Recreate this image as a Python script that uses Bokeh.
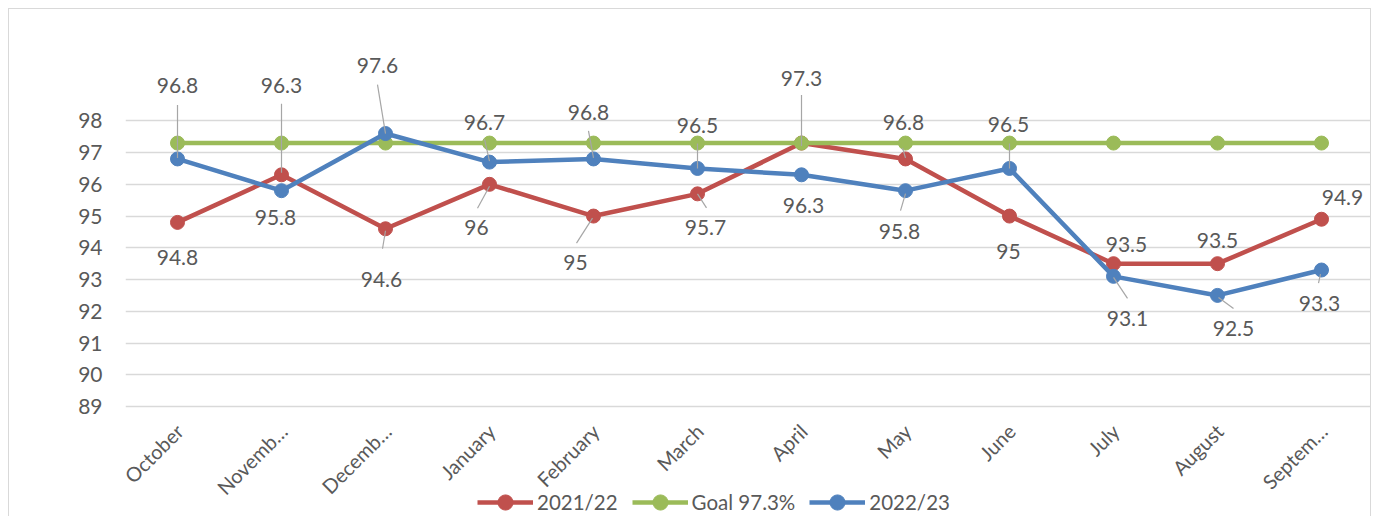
from math import pi
from bokeh.plotting import figure
from bokeh.models import ColumnDataSource, Range1d, FixedTicker, Legend, LegendItem
from bokeh.core.properties import value
from bokeh.embed import file_html
from bokeh.resources import INLINE

# ---------------- data ----------------
months = ["October", "November", "December", "January", "February", "March",
          "April", "May", "June", "July", "August", "September"]
tick_labels = ["October", "Novemb\u2026", "Decemb\u2026", "January", "February", "March",
               "April", "May", "June", "July", "August", "Septem\u2026"]
y_ticks = [89, 90, 91, 92, 93, 94, 95, 96, 97, 98]
series_2122 = [94.8, 96.3, 94.6, 96, 95, 95.7, 97.3, 96.8, 95, 93.5, 93.5, 94.9]
series_goal = [97.3, 97.3, 97.3, 97.3, 97.3, 97.3, 97.3, 97.3, 97.3, 97.3, 97.3, 97.3]
series_2223 = [96.8, 95.8, 97.6, 96.7, 96.8, 96.5, 96.3, 95.8, 96.5, 93.1, 92.5, 93.3]
names = ["2021/22", "Goal 97.3%", "2022/23"]

# ---------------- styling ----------------
FONT = "Lato"
TXT = "#595959"
GRID = "#D9D9D9"
LEADER = "#A6A6A6"
RED, GREEN, BLUE = "#C0504D", "#9BBB59", "#4F81BD"

W, H = 1363, 508
MB_LEFT, MB_TOP, MB_BOTTOM, MB_RIGHT = 116, 32, 0, 0
FRAME_W = W - MB_LEFT - MB_RIGHT
FRAME_H = H - MB_TOP - MB_BOTTOM
CAT_PX = 104.0
UNIT_PX = 365 / 11.5
X0 = -0.5
X1 = X0 + FRAME_W / CAT_PX
Y1 = 100.5
Y0 = Y1 - FRAME_H / UNIT_PX
PPX = FRAME_W / (X1 - X0)
PPY = FRAME_H / (Y1 - Y0)

# label offsets (px, screen: +y down) and leader lines (start/end offsets in px)
lab_2122 = [(0, 35), (0, -89), (-4, 51), (-13, 43), (-18, 46), (8, 34),
            (0, -65), (-2, -36), (-1, 35), (13, -19), (0, -23), (21, -22)]
lead_2122 = {1: (0, -71, 0, -2), 2: (-3, 20, 0, 2), 3: (-12, 24, 0, 2),
             4: (-17, 27, -1, 2), 5: (9, 14, 0, 0), 6: (0, -48, 0, 3),
             7: (-3, -11, 0, -1)}
lab_2223 = [(0, -73), (-6, 27), (-8, -68), (-5, -40), (-5, -46), (0, -43),
            (2, 31), (-6, 41), (-1, -44), (14, 42), (16, 33), (-2, 33)]
lead_2223 = {0: (0, -54, 0, -1), 2: (-8, -49, 0, 0), 3: (-5, -23, 0, -1),
             4: (-5, -28, 0, -1), 5: (0, -25, 0, 0), 7: (-5, 20, 0, 3),
             8: (0, -25, 0, 0), 9: (14, 22, 0, 1), 10: (16, 13, 1, 2),
             11: (-3, 13, -1, 4)}

p = figure(width=W, height=H, output_backend="svg", toolbar_location=None,
           x_range=Range1d(X0, X1), y_range=Range1d(Y0, Y1),
           min_border_left=MB_LEFT, min_border_right=MB_RIGHT,
           min_border_top=MB_TOP, min_border_bottom=MB_BOTTOM)
p.styles = {"border-top": "1px solid #D9D9D9", "border-left": "1px solid #D9D9D9",
            "border-right": "1px solid #D9D9D9", "margin-left": "8px", "margin-top": "8px"}
p.outline_line_color = None
p.background_fill_color = "white"
p.border_fill_color = "white"

xs = list(range(len(months)))

# x axis: category labels drawn as rotated text under the bottom gridline
p.xaxis.visible = False
p.xgrid.grid_line_color = None
cat_src = ColumnDataSource(dict(x=xs, y=[y_ticks[0]] * len(xs), t=tick_labels))
p.text("x", "y", text="t", source=cat_src, angle=pi / 4, x_offset=2, y_offset=21,
       text_align="right", text_baseline="middle",
       text_font=value(FONT), text_font_size="20px", text_color=TXT)

p.yaxis.ticker = FixedTicker(ticks=y_ticks)
p.yaxis.axis_line_color = None
p.yaxis.major_tick_line_color = None
p.yaxis.minor_tick_line_color = None
p.yaxis.major_label_text_font = FONT
p.yaxis.major_label_text_font_size = "21px"
p.yaxis.major_label_text_color = TXT
p.yaxis.major_label_standoff = 17
p.ygrid.grid_line_color = GRID
p.ygrid.grid_line_width = 1.5
p.ygrid.ticker = FixedTicker(ticks=y_ticks)

items = []
for name, vals, col in zip(names, [series_2122, series_goal, series_2223], [RED, GREEN, BLUE]):
    src = ColumnDataSource(dict(x=xs, y=vals))
    ln = p.line("x", "y", source=src, line_color=col, line_width=4.5)
    sc = p.scatter("x", "y", source=src, size=14, fill_color=col, line_color=col)
    items.append(LegendItem(label=name, renderers=[ln, sc]))

# data labels + leader lines
def add_labels(vals, offs, leads):
    lx0, ly0, lx1, ly1 = [], [], [], []
    for i, (sx, sy, ex, ey) in leads.items():
        lx0.append(xs[i] + sx / PPX)
        ly0.append(vals[i] - sy / PPY)
        lx1.append(xs[i] + ex / PPX)
        ly1.append(vals[i] - ey / PPY)
    p.segment(x0=lx0, y0=ly0, x1=lx1, y1=ly1, line_color=LEADER, line_width=1.2)
    src = ColumnDataSource(dict(x=xs, y=vals,
                                t=["{:g}".format(v) for v in vals],
                                dx=[o[0] for o in offs], dy=[o[1] for o in offs]))
    p.text("x", "y", text="t", source=src, x_offset="dx", y_offset="dy",
           text_align="center", text_baseline="middle",
           text_font=value(FONT), text_font_size="21px", text_color=TXT)

add_labels(series_2122, lab_2122, lead_2122)
add_labels(series_2223, lab_2223, lead_2223)

legend = Legend(items=items, orientation="horizontal", location=(352, -4),
                glyph_width=56, glyph_height=38, label_standoff=4, spacing=14,
                padding=0, margin=0, border_line_alpha=0, background_fill_alpha=0,
                label_text_font=FONT, label_text_font_size="20.5px",
                label_text_color=TXT)
p.add_layout(legend)

open("out.html", "w").write(file_html(p, INLINE))
